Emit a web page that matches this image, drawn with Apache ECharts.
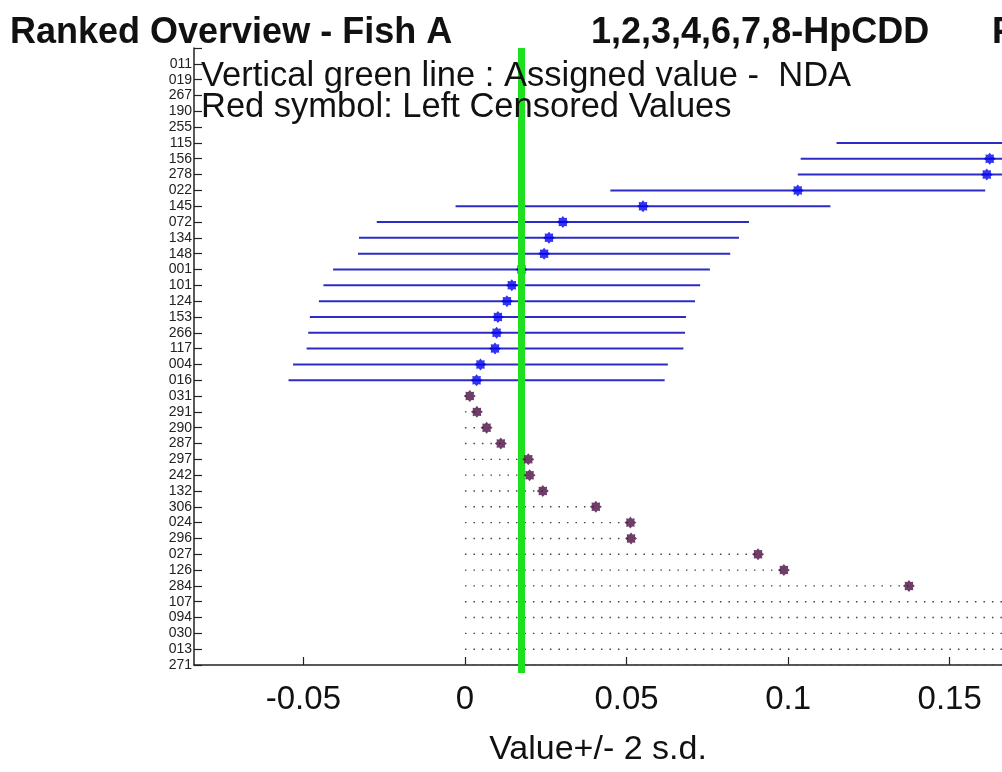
<!DOCTYPE html>
<html>
<head>
<meta charset="utf-8">
<script src="https://cdn.jsdelivr.net/npm/echarts@6/dist/echarts.min.js"></script>
<style>
  html, body { margin: 0; padding: 0; background: #fff; }
  #main { width: 1002px; height: 772px; }
</style>
</head>
<body>
<div id="main"></div>
<script>
// lab codes, top to bottom (rank order)
const labCodes = ['011', '019', '267', '190', '255', '115', '156', '278', '022', '145',
  '072', '134', '148', '001', '101', '124', '153', '266', '117', '004', '016',
  '031', '291', '290', '287', '297', '242', '132', '306', '024', '296', '027',
  '126', '284', '107', '094', '030', '013', '271'];

// reported values with 2 s.d. (first 21 rows)
const reportedValues = [0.42, 0.36, 0.31, 0.27, 0.235, 0.173, 0.1624, 0.1615, 0.103, 0.0551,
  0.0303, 0.026, 0.0245, 0.0175, 0.0145, 0.013, 0.0102, 0.0098, 0.0093, 0.0048, 0.0036];
const twoSd = [0.058, 0.058, 0.058, 0.058, 0.058, 0.058, 0.0585, 0.0585, 0.058, 0.058,
  0.0576, 0.0588, 0.0576, 0.0583, 0.0583, 0.0582, 0.0582, 0.0583, 0.0583, 0.058, 0.0582];

// left censored values (remaining 18 rows)
const censoredValues = [0.0015, 0.0037, 0.0067, 0.0111, 0.0196, 0.02, 0.0241, 0.0405, 0.0512,
  0.0514, 0.0907, 0.0987, 0.1374, 0.19, 0.22, 0.26, 0.30, 0.35];

const assignedValue = 0.0175;

const xMin = -0.08385;
const xMax = 0.1662;

const FONT = "'Liberation Sans', Arial, sans-serif";

// 8 pointed star marker
function starPath(n, rIn) {
  let d = '';
  for (let k = 0; k < 2 * n; k++) {
    const r = k % 2 ? rIn : 1;
    const a = Math.PI * k / n - Math.PI / 2;
    d += (k ? 'L' : 'M') + (r * Math.cos(a)).toFixed(3) + ' ' + (r * Math.sin(a)).toFixed(3);
  }
  return 'path://' + d + 'Z';
}
const marker = starPath(8, 0.72);

const nBlue = reportedValues.length;

const intervalData = reportedValues.map((v, i) => [v - twoSd[i], v + twoSd[i], i]);
const blueDots = reportedValues.map((v, i) => [v, i]);
const censoredLines = censoredValues.map((v, i) => [0, v, nBlue + i]);
const censoredDots = censoredValues.map((v, i) => [v, nBlue + i]);

function hLine(color, width, dash) {
  return function (params, api) {
    const p1 = api.coord([api.value(0), api.value(2)]);
    const p2 = api.coord([api.value(1), api.value(2)]);
    const cs = params.coordSys;
    const x1 = Math.max(p1[0], cs.x);
    const x2 = Math.min(p2[0], cs.x + cs.width);
    if (x2 <= x1) return null;
    return {
      type: 'line',
      shape: { x1: x1, y1: p1[1], x2: x2, y2: p2[1] },
      style: { stroke: color, lineWidth: width, lineDash: dash }
    };
  };
}

const chart = echarts.init(document.getElementById('main'));

chart.setOption({
  animation: false,
  backgroundColor: '#fff',
  textStyle: { fontFamily: FONT },
  grid: { left: 194, right: 0, top: 48, bottom: 105 },
  graphic: [
    { type: 'text', left: 10, top: 15, style: { text: 'Ranked Overview - Fish A', font: 'bold 36px ' + FONT, fill: '#111' } },
    { type: 'text', left: 591, top: 15, style: { text: '1,2,3,4,6,7,8-HpCDD', font: 'bold 36px ' + FONT, fill: '#111' } },
    { type: 'text', left: 992, top: 15, style: { text: 'F', font: 'bold 36px ' + FONT, fill: '#111' } },
    { type: 'text', left: 201, top: 59, z: 10, style: { text: 'Vertical green line : Assigned value -  NDA', font: '34.5px ' + FONT, fill: '#111' } },
    { type: 'text', left: 201, top: 90, z: 10, style: { text: 'Red symbol: Left Censored Values', font: '34.5px ' + FONT, fill: '#111' } }
  ],
  xAxis: {
    type: 'value',
    min: xMin,
    max: xMax,
    splitNumber: 5,
    name: 'Value+/- 2 s.d.',
    nameLocation: 'middle',
    nameGap: 68,
    nameTextStyle: { fontSize: 34, color: '#111', fontFamily: FONT },
    axisLine: { onZero: false, lineStyle: { color: '#222', width: 1.5 } },
    axisTick: { inside: true, length: 8, lineStyle: { color: '#222', width: 1.2 } },
    axisLabel: { fontSize: 33, color: '#111', margin: 18, showMinLabel: false, showMaxLabel: false },
    splitLine: { show: false }
  },
  yAxis: {
    type: 'value',
    inverse: true,
    min: -1,
    max: 38,
    interval: 1,
    axisLine: { onZero: false, lineStyle: { color: '#222', width: 1.5 } },
    axisTick: { inside: true, length: 8, lineStyle: { color: '#222', width: 1.2 } },
    axisLabel: {
      fontSize: 14,
      color: '#222',
      margin: 2,
      fontFamily: "'Liberation Sans Narrow', " + FONT,
      formatter: (v) => labCodes[v] || ''
    },
    splitLine: { show: false }
  },
  series: [
    {
      type: 'custom',
      name: 'interval',
      renderItem: hLine('#2c2cc4', 2, null),
      encode: { x: [0, 1], y: 2 },
      data: intervalData,
      clip: true,
      z: 2
    },
    {
      type: 'custom',
      name: 'censored',
      renderItem: hLine('#444', 1.4, [1.5, 7]),
      encode: { x: [0, 1], y: 2 },
      data: censoredLines,
      clip: true,
      z: 2
    },
    {
      type: 'scatter',
      name: 'value',
      data: blueDots,
      symbol: marker,
      symbolSize: 12,
      itemStyle: { color: '#0000f0' },
      clip: true,
      z: 3
    },
    {
      type: 'custom',
      name: 'assigned',
      data: [[assignedValue, 0]],
      encode: { x: 0, y: 1 },
      clip: false,
      z: 4,
      renderItem: function (params, api) {
        const x = api.coord([api.value(0), api.value(1)])[0];
        const cs = params.coordSys;
        return {
          type: 'line',
          shape: { x1: x, y1: cs.y, x2: x, y2: cs.y + cs.height + 8 },
          style: { stroke: '#1fe01f', lineWidth: 7 }
        };
      }
    },
    {
      type: 'scatter',
      name: 'left censored',
      data: censoredDots,
      symbol: marker,
      symbolSize: 12,
      itemStyle: { color: '#4a0e42' },
      clip: true,
      z: 5
    }
  ]
});
</script>
</body>
</html>
